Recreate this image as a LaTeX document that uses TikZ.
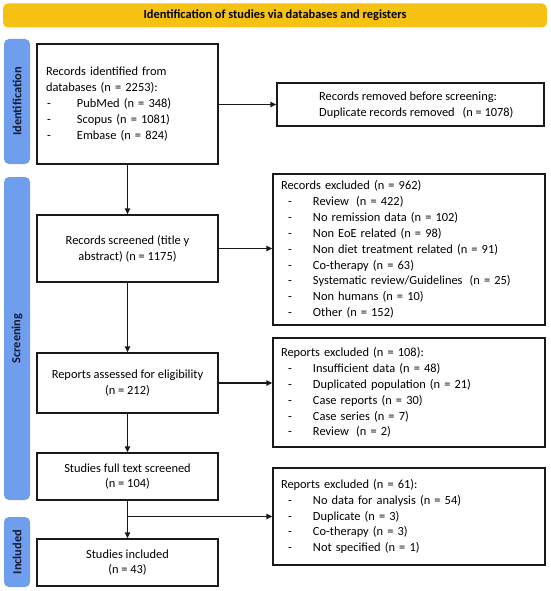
\documentclass[tikz,border=0pt]{standalone}
\usepackage{fontspec}
\setmainfont{Carlito}
\usetikzlibrary{arrows.meta}
\definecolor{bannerc}{RGB}{245,194,20}
\definecolor{barc}{RGB}{112,158,238}
\definecolor{bartext}{RGB}{20,26,48}
\definecolor{linec}{RGB}{25,25,25}
\newcommand\fsz{\fontsize{12.4}{15.9}\selectfont}
\newcommand\ditemA[1]{\makebox[31pt][l]{\hspace{1pt}-}#1}
\newcommand\ditemB[1]{\makebox[32pt][l]{\hspace{7pt}-}#1}
\begin{document}
\begin{tikzpicture}[x=1pt,y=-1pt,
  box/.style={draw=linec, line width=1.4pt, fill=white, inner sep=0pt, font=\fsz},
  plain/.style={inner sep=0pt, font=\fsz, align=left},
  banner/.style={fill=bannerc, rounded corners=5pt, inner sep=0pt, font=\fsz\bfseries},
  sidebar/.style={fill=barc, rounded corners=5pt, inner sep=0pt, rotate=90, text=bartext, font=\fsz\bfseries},
  arr/.style={draw=linec, line width=1.4pt, -{Triangle[length=6pt,width=5.5pt]}},
  ln/.style={draw=linec, line width=1.4pt}]
\useasboundingbox (0,0) rectangle (550,591);

% banner and side bars
\node[banner, minimum width=544pt, minimum height=24pt] (ban) at (275,15.5) {Identification of studies via databases and registers};
\node[sidebar, minimum width=125pt, minimum height=26pt] (idbar) at (17,101.5) {Identification};
\node[sidebar, minimum width=323pt, minimum height=26pt] (scbar) at (17,338.5) {Screening};
\node[sidebar, minimum width=70pt, minimum height=26pt] (inbar) at (17,552) {Included};

% left column
\node[box, minimum width=181pt, minimum height=120pt, text width=163pt, align=left] (b1) at (127.5,104)
  {Records identified from\\databases (n = 2253):\\\ditemA{PubMed (n = 348)}\\\ditemA{Scopus (n = 1081)}\\\ditemA{Embase (n = 824)}};
\node[box, minimum width=181pt, minimum height=67pt, align=center] (scr) at (127.5,248.5)
  {Records screened (title y\\abstract) (n = 1175)};
\node[box, minimum width=181pt, minimum height=60pt, align=center] (ass) at (127.5,383)
  {Reports assessed for eligibility\\(n = 212)};
\node[box, minimum width=181pt, minimum height=47pt, align=center] (full) at (127.5,476.5)
  {Studies full text screened\\(n = 104)};
\node[box, minimum width=181pt, minimum height=47pt, align=center] (inc) at (127.5,562.5)
  {Studies included\\(n = 43)};

% right column
\node[box, minimum width=267pt, minimum height=43pt] (rem) at (410.5,104.5) {};
\node[plain, anchor=west] (remt) at (319,105)
  {Records removed before screening:\\Duplicate records removed\hspace{5pt} (n = 1078)};
\node[box, minimum width=272pt, minimum height=151pt, text width=256pt, align=left] (ex1) at (409,249.5)
  {Records excluded (n = 962)\\\ditemB{Review\hspace{3pt} (n = 422)}\\\ditemB{No remission data (n = 102)}\\\ditemB{Non EoE related (n = 98)}\\\ditemB{Non diet treatment related (n = 91)}\\\ditemB{Co-therapy (n = 63)}\\\ditemB{Systematic review/Guidelines\hspace{3pt} (n = 25)}\\\ditemB{Non humans (n = 10)}\\\ditemB{Other (n = 152)}};
\node[box, minimum width=272pt, minimum height=109pt, text width=256pt, align=left] (ex2) at (409,392.5)
  {Reports excluded (n = 108):\\\ditemB{Insufficient data (n = 48)}\\\ditemB{Duplicated population (n = 21)}\\\ditemB{Case reports (n = 30)}\\\ditemB{Case series (n = 7)}\\\ditemB{Review\hspace{3pt} (n = 2)}};
\node[box, minimum width=272pt, minimum height=97pt, text width=256pt, align=left] (ex3) at (409,516.5)
  {Reports excluded (n = 61):\\\ditemB{No data for analysis (n = 54)}\\\ditemB{Duplicate (n = 3)}\\\ditemB{Co-therapy (n = 3)}\\\ditemB{Not specified (n = 1)}};

% connectors
\draw[arr] (b1.east |- rem.west) -- (rem.west);
\draw[arr] (b1.south) -- (scr.north);
\draw[arr] (scr.east) -- (scr.east -| ex1.west);
\draw[arr] (scr.south) -- (ass.north);
\draw[arr] (ass.east) -- (ass.east -| ex2.west);
\draw[arr] (ass.south) -- (full.north);
\draw[arr] (full.south) -- (inc.north);
\coordinate (jn) at (full.south |- ex3.west);
\draw[arr] (jn) -- (ex3.west);
\end{tikzpicture}
\end{document}
